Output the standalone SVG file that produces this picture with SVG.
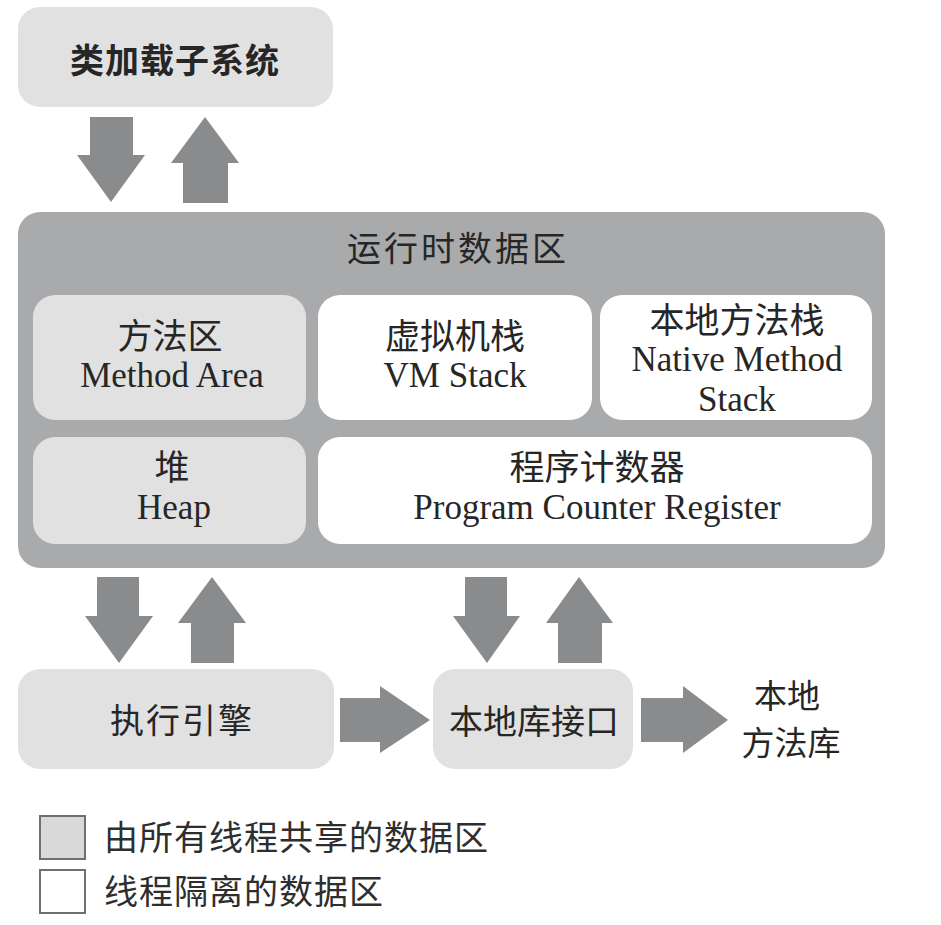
<svg xmlns="http://www.w3.org/2000/svg" width="941" height="925" viewBox="0 0 941 925">
<style>
.bg{fill:#ffffff}
.shared{fill:#e1e1e2}
.runtime{fill:#a9aaac}
.private{fill:#ffffff}
.arrow{fill:#8a8b8d}
.cjk{font-family:"Noto Sans CJK SC","Liberation Sans",sans-serif;font-size:34px;fill:#262626;text-anchor:middle}
.ser{font-family:"Liberation Serif","Noto Sans CJK SC",serif;font-size:35px;fill:#262626;text-anchor:middle}
.lg{font-family:"Noto Sans CJK SC","Liberation Sans",sans-serif;font-size:34px;fill:#2e2e2e;letter-spacing:1px}
</style>
<rect class="bg" x="0" y="0" width="941" height="925"/>
<g id="class-loader">
<rect class="shared" x="18" y="7" width="315" height="100" rx="22"/>
<text class="cjk" x="175" y="73" font-weight="bold" style="letter-spacing:1px">类加载子系统</text>
</g>
<g id="runtime-data-area">
<rect class="runtime" x="18" y="212" width="867" height="356" rx="22"/>
<text class="cjk" x="458" y="261" style="letter-spacing:3px">运行时数据区</text>
</g>
<g id="method-area">
<rect class="shared" x="33" y="295" width="273" height="125" rx="22"/>
<text class="ser" x="170" y="349">方法区</text>
<text class="ser" x="172" y="387">Method Area</text>
</g>
<g id="vm-stack">
<rect class="private" x="318" y="295" width="274" height="125" rx="22"/>
<text class="ser" x="455" y="349">虚拟机栈</text>
<text class="ser" x="455" y="387">VM Stack</text>
</g>
<g id="native-method-stack">
<rect class="private" x="600" y="295" width="272" height="125" rx="22"/>
<text class="ser" x="737" y="333">本地方法栈</text>
<text class="ser" x="737" y="371">Native Method</text>
<text class="ser" x="737" y="411">Stack</text>
</g>
<g id="heap">
<rect class="shared" x="33" y="437" width="273" height="107" rx="22"/>
<text class="ser" x="172" y="480">堆</text>
<text class="ser" x="174" y="519">Heap</text>
</g>
<g id="pc-register">
<rect class="private" x="318" y="437" width="554" height="107" rx="22"/>
<text class="ser" x="597" y="480">程序计数器</text>
<text class="ser" x="597" y="519">Program Counter Register</text>
</g>
<g id="execution-engine">
<rect class="shared" x="18" y="669" width="316" height="100" rx="22"/>
<text class="cjk" x="182" y="733" style="letter-spacing:2px">执行引擎</text>
</g>
<g id="native-interface">
<rect class="shared" x="433" y="669" width="200" height="100" rx="22"/>
<text class="cjk" x="534" y="734">本地库接口</text>
</g>
<g id="native-library">
<text class="cjk" x="787" y="708" style="font-size:33px">本地</text>
<text class="cjk" x="791" y="755" style="font-size:33px">方法库</text>
</g>
<g id="connectors">
<polygon class="arrow" points="90,117 133,117 133,155 145,155 111,202 77,155 90,155"/>
<polygon class="arrow" points="183,203 228,203 228,163 239,163 205,117 171,163 183,163"/>
<polygon class="arrow" points="97,577 139,577 139,616 153,616 119,663 85,616 97,616"/>
<polygon class="arrow" points="191,663 234,663 234,623 246,623 212,577 178,623 191,623"/>
<polygon class="arrow" points="465,577 507,577 507,616 520,616 487,663 453,616 465,616"/>
<polygon class="arrow" points="558,663 602,663 602,623 613,623 579,577 546,623 558,623"/>
<polygon class="arrow" points="340,698 380,698 380,686 430,720 380,753 380,742 340,742"/>
<polygon class="arrow" points="641,698 683,698 683,686 728,720 683,753 683,742 641,742"/>
</g>
<g id="legend">
<rect x="40" y="816" width="45" height="43" fill="#d9d9da" stroke="#6f6f70" stroke-width="2"/>
<text class="lg" x="104" y="850">由所有线程共享的数据区</text>
<rect x="40" y="870" width="45" height="43" fill="#ffffff" stroke="#6f6f70" stroke-width="2"/>
<text class="lg" x="104" y="904">线程隔离的数据区</text>
</g>
</svg>
